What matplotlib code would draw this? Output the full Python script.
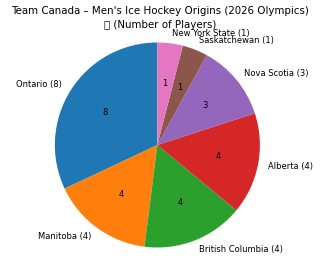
import matplotlib
matplotlib.use('Agg')
import matplotlib.pyplot as plt

# Player origins, counterclockwise from the top
provinces = ['Ontario', 'Manitoba', 'British Columbia', 'Alberta',
             'Nova Scotia', 'Saskatchewan', 'New York State']
players = [8, 4, 4, 4, 3, 1, 1]
total = sum(players)

labels = [f'{p} ({n})' for p, n in zip(provinces, players)]

plt.rcParams['font.size'] = 6
fig = plt.figure(figsize=(3.2, 2.63), dpi=100)
# pie limits are +-1.25 radius, so the axes is 2.5 radii wide
ax = fig.add_axes([0.0914, -0.0385, 0.8008, 0.9744])
ax.pie(players, labels=labels, startangle=90,
       autopct=lambda pct: f'{int(round(pct * total / 100))}')
ax.set_aspect('equal')
fig.suptitle("Team Canada \u2013 Men's Ice Hockey Origins (2026 Olympics)\n"
             "\U0001F3D2 (Number of Players)", fontsize=7.4, y=0.978, va='top',
             linespacing=1.5)
plt.savefig('out.png', dpi=100)
